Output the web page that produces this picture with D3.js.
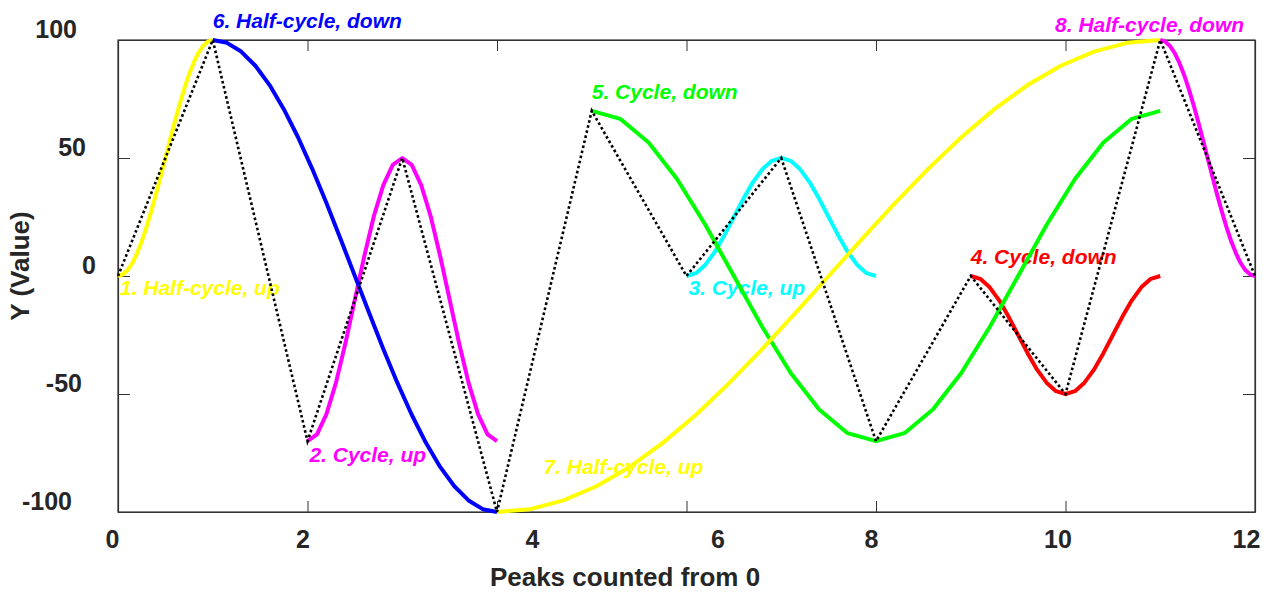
<!DOCTYPE html>
<html>
<head>
<meta charset="utf-8">
<script src="https://cdn.jsdelivr.net/npm/d3@7"></script>
<style>
  html, body { margin: 0; padding: 0; background: #fff; }
  svg { display: block; }
  text { font-family: "Liberation Sans", Arial, sans-serif; }
</style>
</head>
<body>
<div id="chart"></div>
<script>
// ---------------- DATA ----------------
// Peak sequence (black dotted line), x = peak index 0..12
const peakIndex = [0,1,2,3,4,5,6,7,8,9,10,11,12];
const peakValue = [0,100,-70,50,-100,70,0,50,-70,0,-50,100,0];

const xTickValues = [0,2,4,6,8,10,12];
const yTickValues = [-100,-50,0,50,100];

// Rainflow cycles: start peak, end peak, sampled values (21 samples each)
const cycleLabels = ["1. Half-cycle, up","2. Cycle, up","3. Cycle, up","4. Cycle, down",
                     "5. Cycle, down","6. Half-cycle, down","7. Half-cycle, up","8. Half-cycle, down"];
const cycleStart = [0, 2, 6, 9, 5, 1, 4, 11];
const cycleEnd   = [1, 4, 8, 11, 11, 4, 11, 12];

const cycle1 = [0,0.6,2.4,5.4,9.5,14.6,20.6,27.3,34.5,42.2,50,57.8,65.5,72.7,79.4,85.4,90.5,94.6,97.6,99.4,100];
const cycle2 = [-70,-67.1,-58.5,-45.3,-28.5,-10,8.5,25.3,38.5,47.1,50,47.1,38.5,25.3,8.5,-10,-28.5,-45.3,-58.5,-67.1,-70];
const cycle3 = [0,1.2,4.8,10.3,17.3,25,32.7,39.7,45.2,48.8,50,48.8,45.2,39.7,32.7,25,17.3,10.3,4.8,1.2,0];
const cycle4 = [0,-1.2,-4.8,-10.3,-17.3,-25,-32.7,-39.7,-45.2,-48.8,-50,-48.8,-45.2,-39.7,-32.7,-25,-17.3,-10.3,-4.8,-1.2,0];
const cycle5 = [70,66.6,56.6,41.1,21.6,0,-21.6,-41.1,-56.6,-66.6,-70,-66.6,-56.6,-41.1,-21.6,0,21.6,41.1,56.6,66.6,70];
const cycle6 = [100,98.8,95.1,89.1,80.9,70.7,58.8,45.4,30.9,15.6,0,-15.6,-30.9,-45.4,-58.8,-70.7,-80.9,-89.1,-95.1,-98.8,-100];
const cycle7 = [-100,-98.8,-95.1,-89.1,-80.9,-70.7,-58.8,-45.4,-30.9,-15.6,0,15.6,30.9,45.4,58.8,70.7,80.9,89.1,95.1,98.8,100];
const cycle8 = [100,99.4,97.6,94.6,90.5,85.4,79.4,72.7,65.5,57.8,50,42.2,34.5,27.3,20.6,14.6,9.5,5.4,2.4,0.6,0];
const cycleValues = [cycle1, cycle2, cycle3, cycle4, cycle5, cycle6, cycle7, cycle8];

// Annotation anchors in data units
const labelX = [0.02, 2.02, 6.02, 9.0, 5.0, 1.0, 4.49, 9.89];
const labelY = [-8, -79, -8, 5, 75, 105, -84, 103.5];

// ---------------- STYLE ----------------
const cycleColors = ["#ffff00","#ff00ff","#00ffff","#ff0000","#00ff00","#0000ff","#ffff00","#ff00ff"];
const W = 1270, H = 593;
const plot = {left: 118, right: 1255, top: 40, bottom: 512};
const axisColor = "#333333";
const textColor = "#262626";
// manual label placement tweaks to mirror the reference
const xLabelShift = {0:-6, 2:-5, 4:35, 6:31, 8:-5, 10:-8, 12:-9};
const yLabelRight = {"100":77, "50":86, "0":96, "-50":82, "-100":72};

const svg = d3.select("#chart").append("svg").attr("width", W).attr("height", H);

const x = d3.scaleLinear().domain([0, 12]).range([plot.left, plot.right]);
const y = d3.scaleLinear().domain([-100, 100]).range([plot.bottom, plot.top]);

// frame
svg.append("rect")
  .attr("x", plot.left).attr("y", plot.top)
  .attr("width", plot.right - plot.left).attr("height", plot.bottom - plot.top)
  .attr("fill", "none").attr("stroke", axisColor).attr("stroke-width", 1.2);

const fmt = d => String(d);

// axes
const gx = svg.append("g").attr("transform", `translate(0,${plot.bottom})`)
  .call(d3.axisBottom(x).tickValues(xTickValues).tickSizeInner(-11).tickSizeOuter(0).tickFormat(fmt));
const gxTop = svg.append("g").attr("transform", `translate(0,${plot.top})`)
  .call(d3.axisTop(x).tickValues(xTickValues).tickSizeInner(-11).tickSizeOuter(0).tickFormat(""));
const gy = svg.append("g").attr("transform", `translate(${plot.left},0)`)
  .call(d3.axisLeft(y).tickValues(yTickValues).tickSizeInner(-12).tickSizeOuter(0).tickFormat(fmt));
const gyRight = svg.append("g").attr("transform", `translate(${plot.right},0)`)
  .call(d3.axisRight(y).tickValues(yTickValues).tickSizeInner(-12).tickSizeOuter(0).tickFormat(""));

[gx, gxTop, gy, gyRight].forEach(g => {
  g.select(".domain").attr("stroke", axisColor).attr("stroke-width", 1.2);
  g.selectAll(".tick line").attr("stroke", axisColor).attr("stroke-width", 1);
});

gx.selectAll(".tick text")
  .attr("y", 36).attr("dy", 0)
  .attr("x", d => xLabelShift[d] || 0)
  .attr("fill", textColor)
  .style("font-size", "25px").style("font-weight", "bold")
  .style("font-family", '"Liberation Sans", Arial, sans-serif');

gy.selectAll(".tick text")
  .attr("x", d => yLabelRight[String(d)] - plot.left)
  .attr("y", -2.5).attr("dy", 0)
  .attr("text-anchor", "end")
  .attr("fill", textColor)
  .style("font-size", "25px").style("font-weight", "bold")
  .style("font-family", '"Liberation Sans", Arial, sans-serif');

// axis titles
svg.append("text")
  .attr("x", 625).attr("y", 586)
  .attr("text-anchor", "middle")
  .attr("fill", textColor)
  .style("font-size", "26px").style("font-weight", "bold")
  .text("Peaks counted from 0");

svg.append("text")
  .attr("transform", "translate(29,266) rotate(-90)")
  .attr("text-anchor", "middle")
  .attr("fill", textColor)
  .style("font-size", "26px").style("font-weight", "bold")
  .text("Y (Value)");

// annotations
svg.append("g").selectAll("text")
  .data(cycleLabels)
  .join("text")
  .attr("x", (d, i) => x(labelX[i]))
  .attr("y", (d, i) => y(labelY[i]))
  .attr("fill", (d, i) => cycleColors[i])
  .style("font-size", "21px").style("font-weight", "bold").style("font-style", "italic")
  .text(d => d);

// cycle curves
const line = d3.line().x(d => x(d[0])).y(d => y(d[1]));
const cycleData = cycleValues.map((vals, c) =>
  vals.map((v, i) => [cycleStart[c] + i * (cycleEnd[c] - cycleStart[c]) / (vals.length - 1), v]));

svg.append("g").selectAll("path")
  .data(cycleData)
  .join("path")
  .attr("d", line)
  .attr("fill", "none")
  .attr("stroke", (d, i) => cycleColors[i])
  .attr("stroke-width", 4)
  .attr("stroke-linejoin", "round");

// peak sequence
svg.append("path")
  .datum(peakIndex.map((p, i) => [p, peakValue[i]]))
  .attr("d", line)
  .attr("fill", "none")
  .attr("stroke", "#000")
  .attr("stroke-width", 2.6)
  .attr("stroke-dasharray", "2.6,2.6");
</script>
</body>
</html>
